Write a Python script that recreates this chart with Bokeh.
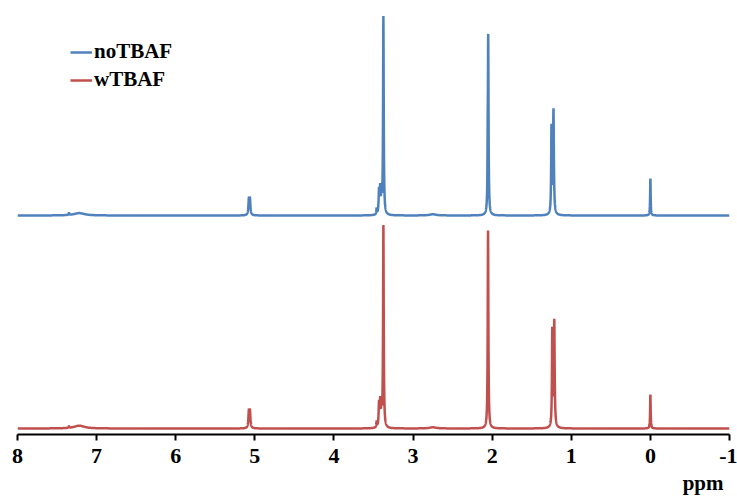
import numpy as np
from bokeh.plotting import figure
from bokeh.models import Range1d, Legend, LegendItem, Title, FixedTicker
from bokeh.embed import file_html
from bokeh.resources import INLINE

# Peak tables: position (ppm), height (a.u.), half-width (ppm)
blue_pos    = [7.35, 7.22, 5.075, 5.062, 3.46, 3.43, 3.415, 3.40, 3.375, 2.75, 2.057, 2.050, 1.25, 1.225, 0.0]
blue_height = [1.0, 1.2, 7.5, 7.5, 3.0, 12.0, 12.0, 10.0, 99.0, 0.6, 18.0, 88.0, 43.0, 52.0, 18.5]
blue_width  = [0.005, 0.08, 0.007, 0.007, 0.004, 0.006, 0.005, 0.005, 0.005, 0.05, 0.003, 0.005, 0.005, 0.006, 0.004]

red_pos    = [7.35, 7.22, 5.075, 5.062, 3.46, 3.43, 3.415, 3.40, 3.375, 2.75, 2.052, 1.24, 1.215, 0.0]
red_height = [0.8, 1.4, 8.0, 8.0, 3.0, 12.0, 12.0, 10.0, 101.0, 0.6, 99.0, 48.0, 53.0, 17.0]
red_width  = [0.005, 0.08, 0.007, 0.007, 0.004, 0.006, 0.005, 0.005, 0.005, 0.05, 0.005, 0.005, 0.006, 0.004]

blue_offset = 106.5
x_ticks = [8, 7, 6, 5, 4, 3, 2, 1, 0, -1]
x_tick_labels = {-1: "-1"}
x_title = "ppm"
series_names = ["noTBAF", "wTBAF"]
colors = ["#4F81BD", "#C0504D"]

ppm = np.arange(8.0, -1.0005, -0.001)

def spectrum(pos, h, w):
    y = np.zeros_like(ppm)
    for p0, h0, w0 in zip(pos, h, w):
        y += h0 * w0**2 / (w0**2 + (ppm - p0) ** 2)
    return y

y_blue = spectrum(blue_pos, blue_height, blue_width) + blue_offset
y_red = spectrum(red_pos, red_height, red_width)

p = figure(width=737, height=499, output_backend="svg", toolbar_location=None,
           x_range=Range1d(8, -1), y_range=Range1d(-3, 214),
           min_border_left=17, min_border_right=8, min_border_top=0, min_border_bottom=65)
p.outline_line_color = None
p.xgrid.visible = False
p.ygrid.visible = False
p.yaxis.visible = False

r_blue = p.line(ppm, y_blue, line_color=colors[0], line_width=2.5)
r_red = p.line(ppm, y_red, line_color=colors[1], line_width=2.5)

ax = p.xaxis[0]
ax.ticker = FixedTicker(ticks=x_ticks)
ax.major_label_overrides = x_tick_labels
ax.minor_tick_line_color = None
ax.major_tick_in = 0
ax.major_tick_out = 6
ax.major_tick_line_width = 2
ax.axis_line_width = 2
ax.axis_line_color = "black"
ax.major_tick_line_color = "black"
ax.major_label_text_font = "Liberation Serif"
ax.major_label_text_font_style = "bold"
ax.major_label_text_font_size = "22px"
ax.major_label_text_color = "black"
ax.major_label_standoff = 8

p.add_layout(Title(text=x_title, align="right", offset=6, standoff=7,
                   text_font="Liberation Serif", text_font_style="bold",
                   text_font_size="21px", text_color="black"), "below")

legend = Legend(items=[LegendItem(label=series_names[0], renderers=[r_blue]),
                       LegendItem(label=series_names[1], renderers=[r_red])],
                location=(53, 342), padding=0, margin=0, spacing=3,
                glyph_width=22, label_standoff=2,
                label_text_font="Liberation Serif", label_text_font_style="bold",
                label_text_font_size="21px", label_text_color="black",
                border_line_color=None, background_fill_alpha=0)
p.add_layout(legend)

open("out.html", "w").write(file_html(p, INLINE))
